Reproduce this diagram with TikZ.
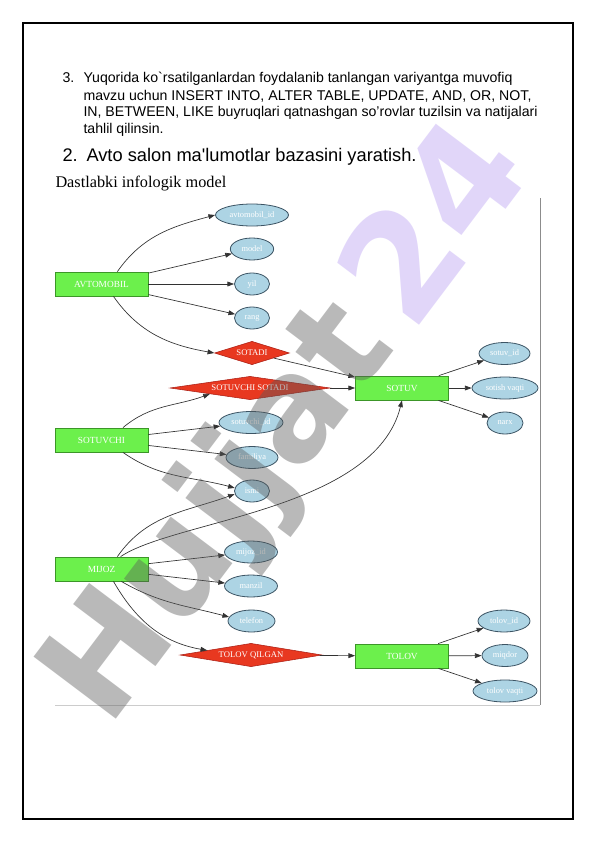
\documentclass[tikz,border=0pt]{standalone}
\usepackage{fontspec}
\setmainfont{Liberation Serif}
\newfontfamily\arialfont{Liberation Sans}
\newfontfamily\markfont{DejaVu Sans}
\usetikzlibrary{shapes.geometric}
\usetikzlibrary{arrows.meta}
\definecolor{entfill}{RGB}{108,240,76}
\definecolor{entline}{RGB}{60,150,40}
\definecolor{attrfill}{RGB}{173,212,228}
\definecolor{attrline}{RGB}{60,84,100}
\definecolor{relfill}{RGB}{232,56,32}
\definecolor{relline}{RGB}{170,30,20}
\definecolor{linecol}{RGB}{50,50,50}
\definecolor{markgray}{RGB}{90,90,90}
\definecolor{marklilac}{RGB}{170,140,240}
\tikzset{every picture/.style={line width=0.75pt}}
\tikzset{
  ent/.style={rectangle, draw=entline, fill=entfill, line width=0.6pt, minimum width=69.75pt, minimum height=18pt, inner sep=0pt, text=white, font=\fontsize{7}{8}\selectfont},
  attr/.style={ellipse, draw=attrline, fill=attrfill, line width=0.6pt, minimum height=16.5pt, inner sep=0pt, text=white, font=\fontsize{6.3}{7}\selectfont},
  rel/.style={diamond, draw=relline, fill=relfill, line width=0.4pt, minimum height=17.5pt, inner sep=0pt, text=white, font=\fontsize{6.5}{7}\selectfont},
  arr/.style={draw=linecol, line width=0.5pt, -{Triangle[length=5pt,width=3.6pt]}},
  task/.style={anchor=base west, inner sep=0pt, font=\arialfont\fontsize{10.6}{12}\selectfont}
}
\begin{document}
\begin{tikzpicture}[x=0.75pt,y=0.75pt,yscale=-1,xscale=1]
\useasboundingbox (0,0) rectangle (596,842);
\fill [white] (0,0) rectangle (596,842);

%Shape: Rectangle [page frame]
\draw [line width=1.6pt] (23,23) rectangle (573,819);

% Text Node
\node [task] (num3) at (62,83) {3.};
\node [task] (task1) at (83,83) {Yuqorida ko\textasciigrave rsatilganlardan foydalanib tanlangan variyantga muvofiq};
\node [task] (task2) at (83,100) {mavzu uchun INSERT INTO, ALTER TABLE, UPDATE, AND, OR, NOT,};
\node [task] (task3) at (83,117) {IN, BETWEEN, LIKE buyruqlari qatnashgan so’rovlar tuzilsin va natijalari};
\node [task] (task4) at (83,133) {tahlil qilinsin.};
% Text Node
\node [anchor=base west, inner sep=0pt, font=\arialfont\fontsize{13.7}{16}\selectfont] (num2) at (62,161) {2.};
\node [anchor=base west, inner sep=0pt, font=\arialfont\fontsize{13.7}{16}\selectfont] (title) at (86,161) {Avto salon ma\textquotesingle lumotlar bazasini yaratish.};
% Text Node
\node [anchor=base west, inner sep=0pt, font=\fontsize{12.2}{14}\selectfont] (caption) at (55,187) {Dastlabki infologik model};

%Straight Lines [diagram frame]
\draw [draw=black!45, line width=0.6pt] (540,198) -- (540,705);
\draw [draw=black!20, line width=0.6pt] (55,705) -- (540,705);

%Shape: entities
\node [ent] (avt) at (101.5,284) {AVTOMOBIL};
\node [ent] (sotuv) at (402,388) {SOTUV};
\node [ent] (sotuvchi) at (101.5,440) {SOTUVCHI};
\node [ent] (mijoz) at (101.5,569) {MIJOZ};
\node [ent] (tolov) at (402,656) {TOLOV};

%Shape: relations
\node [rel, minimum width=56.25pt, aspect=3.3] (sotadi) at (252,353) {SOTADI};
\node [rel, minimum width=120pt, aspect=7] (ss) at (250,388) {SOTUVCHI SOTADI};
\node [rel, minimum width=106.5pt, aspect=6] (tq) at (251,655) {TOLOV QILGAN};

%Shape: attributes
\node [attr, minimum width=54.75pt] (aid) at (252,215) {avtomobil\_id};
\node [attr, minimum width=32.5pt] (model) at (252,249) {model};
\node [attr, minimum width=26.25pt] (yil) at (252,284) {yil};
\node [attr, minimum width=26.25pt] (rang) at (252,318) {rang};
\node [attr, minimum width=38.25pt] (svid) at (504.5,353.5) {sotuv\_id};
\node [attr, minimum width=49.5pt] (svq) at (505,388) {sotish vaqti};
\node [attr, minimum width=27pt] (narx) at (505,423) {narx};
\node [attr, minimum width=48pt] (sid) at (251,422.5) {sotuvchi\_id};
\node [attr, minimum width=39pt] (fam) at (252,457.5) {familiya};
\node [attr, minimum width=26.25pt] (ism) at (252,491) {ismi};
\node [attr, minimum width=39.75pt] (mid) at (251,552) {mijoz\_id};
\node [attr, minimum width=39.75pt] (manzil) at (251,586) {manzil};
\node [attr, minimum width=35.25pt] (tel) at (251.5,621) {telefon};
\node [attr, minimum width=39pt] (tid) at (504,621) {tolov\_id};
\node [attr, minimum width=34.5pt] (miqdor) at (505,655.5) {miqdor};
\node [attr, minimum width=48pt] (tvq) at (505,691) {tolov vaqti};

%Straight Lines
\draw [arr] (avt.38) to [out=-55, in=165] (aid.west);
\draw [arr] (avt) -- (model);
\draw [arr] (avt) -- (yil);
\draw [arr] (avt) -- (rang);
\draw [arr] (avt.-46) to [out=55, in=190] (sotadi.west);
\draw [arr] (sotadi) -- (sotuv);
\draw [arr] (ss) -- (sotuv);
\draw [arr] (sotuv) -- (svid);
\draw [arr] (sotuv) -- (svq);
\draw [arr] (sotuv) -- (narx);
\draw [arr] (sotuvchi.30) to [out=-40, in=160] (ss.south west);
\draw [arr] (sotuvchi) -- (sid);
\draw [arr] (sotuvchi) -- (fam);
\draw [arr] (sotuvchi.-30) to [out=35, in=195] (ism.170);
\draw [arr] (mijoz.38) to [out=-55, in=160] (ism.190);
\draw [arr] (mijoz.33) .. controls (175,520) and (375,510) .. (sotuv.south);
\draw [arr] (mijoz) -- (mid);
\draw [arr] (mijoz) -- (manzil);
\draw [arr] (mijoz.-32) to [out=30, in=195] (tel.170);
\draw [arr] (mijoz.-46) to [out=60, in=190] (tq.174);
\draw [arr] (tq) -- (tolov);
\draw [arr] (tolov) -- (tid);
\draw [arr] (tolov) -- (miqdor);
\draw [arr] (tolov) -- (tvq);

% Text Node [watermark]
\node [rotate=53, opacity=0.42, text=markgray, inner sep=0pt, font=\markfont\bfseries\fontsize{106}{106}\selectfont] (markword) at (222,515) {Hujjat};
\node [rotate=53, opacity=0.35, text=marklilac, inner sep=0pt, font=\markfont\bfseries\fontsize{110}{110}\selectfont] (marknum) at (430,220) {24};

\end{tikzpicture}
\end{document}
